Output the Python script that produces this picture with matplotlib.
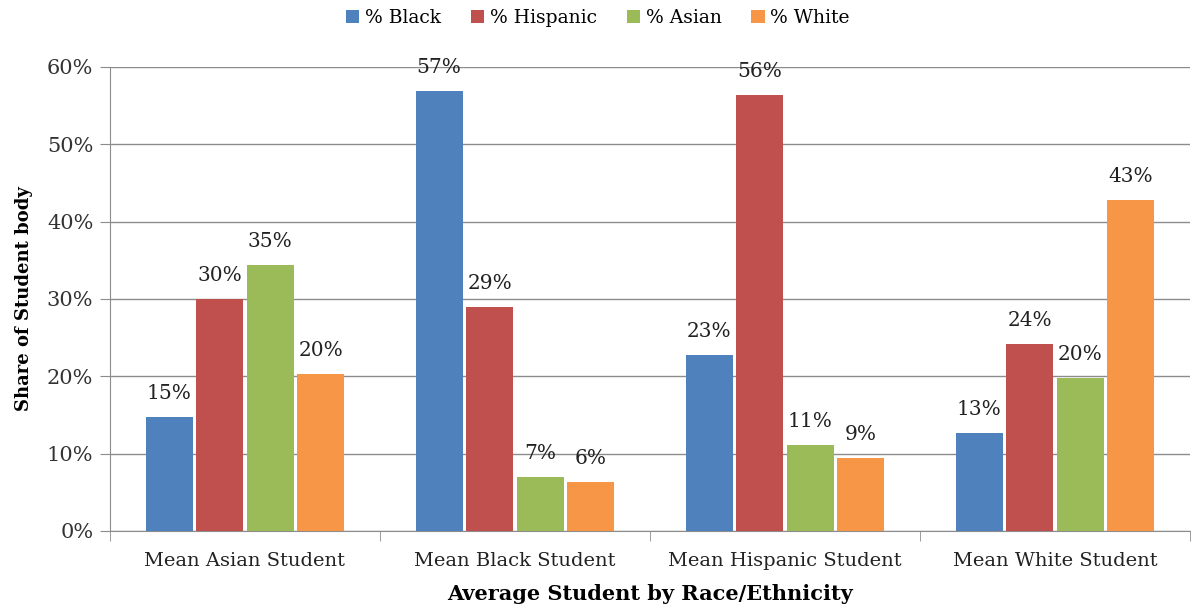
import numpy as np
import matplotlib
matplotlib.use("Agg")
import matplotlib.pyplot as plt
from matplotlib.patches import Patch

# --- données ---
categories = ["Mean Asian Student", "Mean Black Student", "Mean Hispanic Student", "Mean White Student"]
series = ["% Black", "% Hispanic", "% Asian", "% White"]
pct_black = [14.7, 56.9, 22.8, 12.7]
pct_hispanic = [30.0, 29.0, 56.4, 24.2]
pct_asian = [34.4, 7.0, 11.1, 19.8]
pct_white = [20.3, 6.4, 9.4, 42.8]
labels_black = ["15%", "57%", "23%", "13%"]
labels_hispanic = ["30%", "29%", "56%", "24%"]
labels_asian = ["35%", "7%", "11%", "20%"]
labels_white = ["20%", "6%", "9%", "43%"]

couleurs = ["#4F81BD", "#C0504D", "#9BBB59", "#F79646"]
valeurs = [pct_black, pct_hispanic, pct_asian, pct_white]
etiquettes = [labels_black, labels_hispanic, labels_asian, labels_white]

plt.rcParams["font.family"] = ["DejaVu Serif"]

fig = plt.figure(figsize=(11.96, 6.1), dpi=100)
ax = fig.add_axes([110 / 1196, 1 - 531 / 610, 1080 / 1196, 464 / 610])

x = np.arange(len(categories))
slot = 0.1875
largeur = 0.174

for i, (vals, labs, c) in enumerate(zip(valeurs, etiquettes, couleurs)):
    pos = x + (i - 1.5) * slot
    bars = ax.bar(pos, vals, width=largeur, color=c, zorder=3)
    for b, lab in zip(bars, labs):
        ax.text(b.get_x() + b.get_width() / 2, b.get_height() + 1.8, lab,
                ha="center", va="bottom", fontsize=14.5, color="#222222")

ax.set_xlim(-0.5, 3.5)
ax.set_ylim(0, 60)
ax.set_yticks(np.arange(0, 61, 10))
ax.set_yticklabels([f"{v}%" for v in range(0, 61, 10)], fontsize=15, color="#333333")
ax.yaxis.grid(True, color="#8c8c8c", linewidth=1.0, zorder=0)

ax.set_xticks(x)
ax.set_xticklabels(categories, fontsize=14, color="#222222")
ax.set_xticks(np.arange(-0.5, 4.0, 1.0), minor=True)
ax.tick_params(axis="x", which="major", length=0, pad=15)
ax.tick_params(axis="x", which="minor", length=7, color="#8c8c8c", direction="out")
ax.tick_params(axis="y", length=7, color="#8c8c8c", direction="out", pad=5)

for s in ["top", "right"]:
    ax.spines[s].set_visible(False)
ax.spines["left"].set_color("#8c8c8c")
ax.spines["bottom"].set_color("#8c8c8c")

ax.set_ylabel("Share of Student body", fontsize=13, fontweight="bold", labelpad=10)
ax.set_xlabel("Average Student by Race/Ethnicity", fontsize=15, fontweight="bold", labelpad=10)

handles = [Patch(facecolor=c, label=s) for c, s in zip(couleurs, series)]
fig.legend(handles=handles, loc="center", bbox_to_anchor=(0.5, 1 - 18 / 610), ncol=4,
           frameon=False, fontsize=13.5, handlelength=0.7, handleheight=0.7,
           handletextpad=0.3, columnspacing=1.6)

fig.savefig("out.png", dpi=100)
